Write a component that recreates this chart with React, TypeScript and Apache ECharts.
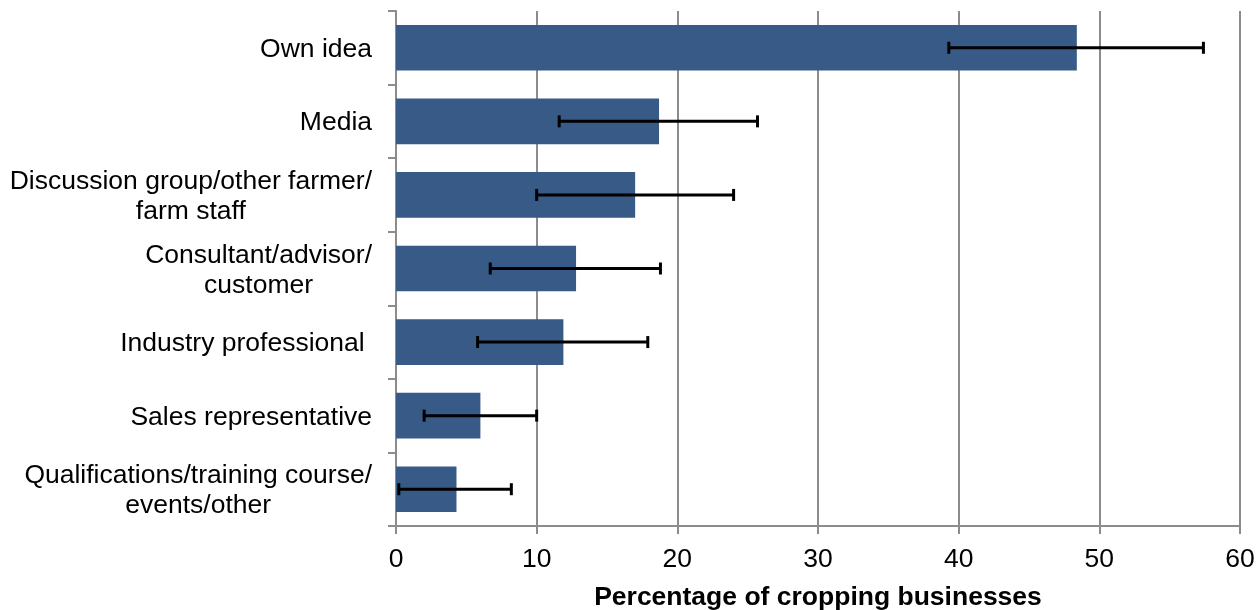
import React, { useEffect, useRef } from "react";
import * as echarts from "echarts";

const categories = [
  "Own idea",
  "Media",
  "Discussion group/other farmer/\nfarm staff",
  "Consultant/advisor/\ncustomer",
  "Industry professional ",
  "Sales representative",
  "Qualifications/training course/\nevents/other",
];
const values = [48.4, 18.7, 17.0, 12.8, 11.9, 6.0, 4.3];
const errLow = [39.3, 11.6, 10.0, 6.7, 5.8, 2.0, 0.2];
const errHigh = [57.4, 25.7, 24.0, 18.8, 17.9, 10.0, 8.2];
const xTicks = { min: 0, max: 60, interval: 10 };
const xTitle = "Percentage of cropping businesses";

const FONT = "Liberation Sans, Arial, sans-serif";
const FS = 26.5;

export default function App() {
  const ref = useRef<HTMLDivElement>(null);
  useEffect(() => {
    if (!ref.current) return;
    const chart = echarts.init(ref.current, null, { renderer: "svg" });
    const errData = categories.map((_, i) => [i, errLow[i], errHigh[i]]);
    chart.setOption({
      animation: false,
      grid: { left: 396, right: 18, top: 11, bottom: 84, containLabel: false, outerBoundsMode: "none" },
      xAxis: {
        type: "value",
        min: xTicks.min,
        max: xTicks.max,
        interval: xTicks.interval,
        name: xTitle,
        nameLocation: "middle",
        nameGap: 56,
        nameTextStyle: { fontFamily: FONT, fontSize: FS, fontWeight: "bold", color: "#000" },
        axisLine: { show: true, lineStyle: { color: "#8c8c8c", width: 2 } },
        axisTick: { show: true, length: 8, lineStyle: { color: "#8c8c8c", width: 2 } },
        axisLabel: { fontFamily: FONT, fontSize: FS, color: "#000", margin: 18 },
        splitLine: { show: true, lineStyle: { color: "#8c8c8c", width: 2 } },
      },
      yAxis: {
        type: "category",
        data: categories,
        inverse: true,
        axisLine: { show: true, lineStyle: { color: "#8c8c8c", width: 2 } },
        axisTick: { show: true, length: 8, lineStyle: { color: "#8c8c8c", width: 2 } },
        axisLabel: {
          margin: 24,
          align: "right",
          formatter: (v: string) =>
            v
              .split("\n")
              .map((s) => "{c|" + s + "}")
              .join("\n"),
          rich: {
            c: { align: "center", fontFamily: FONT, fontSize: FS, color: "#000", lineHeight: 30 },
          },
        },
        splitLine: { show: false },
      },
      series: [
        {
          type: "bar",
          data: values,
          barCategoryGap: "38%",
          itemStyle: { color: "#375A87" },
        },
        {
          type: "custom",
          data: errData,
          encode: { x: [1, 2], y: 0 },
          z: 10,
          renderItem: (params: any, api: any) => {
            const idx = api.value(0);
            const lo = api.coord([api.value(1), idx]);
            const hi = api.coord([api.value(2), idx]);
            const h = 6;
            const style = { stroke: "#000", lineWidth: 3 };
            return {
              type: "group",
              children: [
                { type: "line", shape: { x1: lo[0], y1: lo[1], x2: hi[0], y2: hi[1] }, style },
                { type: "line", shape: { x1: lo[0], y1: lo[1] - h, x2: lo[0], y2: lo[1] + h }, style },
                { type: "line", shape: { x1: hi[0], y1: hi[1] - h, x2: hi[0], y2: hi[1] + h }, style },
              ],
            };
          },
        },
      ],
    });
    return () => chart.dispose();
  }, []);
  return (
    <div
      ref={ref}
      style={{ position: "fixed", left: 0, top: 0, width: 1258, height: 610 }}
    />
  );
}
